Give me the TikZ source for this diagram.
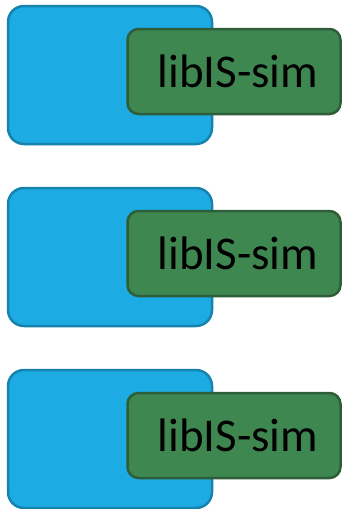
\documentclass[tikz,border=0pt]{standalone}
\usepackage{fontspec}
\setmainfont{Carlito}
\definecolor{hostfill}{HTML}{1CABE2}
\definecolor{hostline}{HTML}{1683AE}
\definecolor{simfill}{HTML}{3F8751}
\definecolor{simline}{HTML}{2E5E39}
\tikzset{
  hostbox/.style={draw=hostline, fill=hostfill, line width=2.5pt,
    rounded corners=16pt, minimum width=204pt, minimum height=138pt,
    inner sep=0pt},
  simbox/.style={draw=simline, fill=simfill, line width=2.5pt,
    rounded corners=11pt, minimum width=213pt, minimum height=85pt,
    inner sep=0pt, font=\fontsize{47}{52}\selectfont, text=black}
}
\begin{document}
\begin{tikzpicture}[x=1pt, y=-1pt]
\useasboundingbox (0,0) rectangle (343,509);
\foreach \i/\y in {1/0, 2/182, 3/364} {
  \node[hostbox] (host\i) at (110, 75+\y) {};
  \node[simbox] (sim\i) at (234, 71.5+\y) {\hspace*{8pt}libIS-sim};
}
\end{tikzpicture}
\end{document}
